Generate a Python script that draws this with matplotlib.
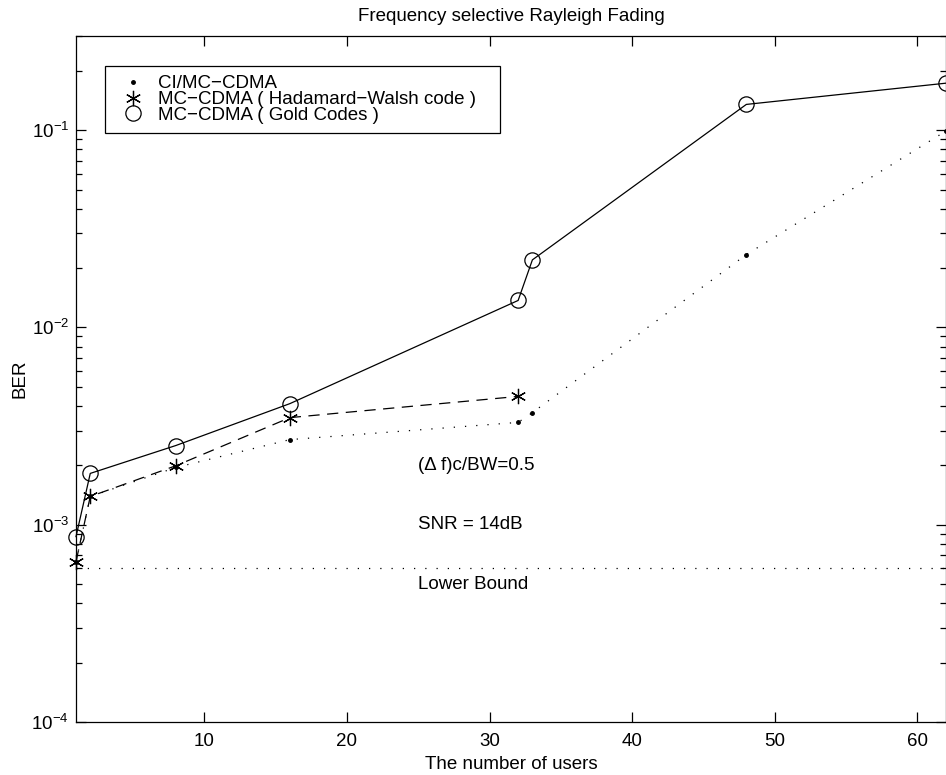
import matplotlib
matplotlib.use("Agg")
import matplotlib.pyplot as plt
from matplotlib.lines import Line2D
from matplotlib.ticker import LogLocator, NullFormatter

plt.rcParams['font.family'] = ['Liberation Sans', 'DejaVu Sans']
plt.rcParams['mathtext.fontset'] = 'custom'
plt.rcParams['mathtext.rm'] = 'Liberation Sans'
plt.rcParams['mathtext.it'] = 'Liberation Sans:italic'
plt.rcParams['mathtext.bf'] = 'Liberation Sans:bold'

# data
users_ci = [1, 2, 8, 16, 32, 33, 48, 62]
ber_ci = [6.5e-4, 1.39e-3, 1.95e-3, 2.7e-3, 3.3e-3, 3.7e-3, 2.34e-2, 0.099]

users_hw = [1, 2, 8, 16, 32]
ber_hw = [6.5e-4, 1.39e-3, 1.99e-3, 3.49e-3, 4.47e-3]

users_gold = [1, 2, 8, 16, 32, 33, 48, 62]
ber_gold = [8.7e-4, 1.82e-3, 2.52e-3, 4.11e-3, 1.37e-2, 2.2e-2, 0.135, 0.173]

lower_bound = 6e-4
labels = ['CI/MC\u2212CDMA', 'MC\u2212CDMA ( Hadamard\u2212Walsh code )', 'MC\u2212CDMA ( Gold Codes )']

fs = 13.5
fig = plt.figure(figsize=(9.46, 7.75), dpi=100)
ax = fig.add_axes([76/946, 1-722/775, 870/946, 686/775])

asterisk = (6, 2, 0)
lw = 0.9
ax.plot(users_ci, ber_ci, color='k', lw=lw, linestyle=(0, (1, 8)), marker='o', markersize=2.5, clip_on=False)
ax.plot(users_hw, ber_hw, color='k', lw=lw, linestyle=(0, (9, 6)), marker=asterisk, markersize=11,
        markeredgewidth=0.9, clip_on=False)
ax.plot(users_gold, ber_gold, color='k', lw=lw, linestyle='-', marker='o', markersize=11,
        markerfacecolor='none', markeredgewidth=0.9, clip_on=False)
ax.plot([1, 62], [lower_bound, lower_bound], color='k', lw=lw, linestyle=(0, (1, 8)))

ax.set_yscale('log')
ax.set_xlim(1, 62)
ax.set_ylim(1e-4, 0.3)
ax.set_xticks([10, 20, 30, 40, 50, 60])
ax.yaxis.set_major_locator(LogLocator(base=10, numticks=10))
ax.yaxis.set_minor_locator(LogLocator(base=10, subs=range(2, 10), numticks=20))
ax.yaxis.set_minor_formatter(NullFormatter())
ax.tick_params(which='both', direction='in', top=True, right=True, labelsize=fs, width=0.9)
ax.tick_params(which='major', length=7)
ax.tick_params(which='minor', length=4)
ax.tick_params(axis='y', which='major', pad=5)
ax.tick_params(axis='x', which='major', pad=8)
for s in ax.spines.values():
    s.set_linewidth(0.9)

ax.text(25, 2e-3, '(\u0394 f)c/BW=0.5', fontsize=fs, va='center', ha='left')
ax.text(25, 1e-3, 'SNR = 14dB', fontsize=fs, va='center', ha='left')
ax.text(25, 5e-4, 'Lower Bound', fontsize=fs, va='center', ha='left')

ax.set_title('Frequency selective Rayleigh Fading', fontsize=fs, pad=10.5)
ax.set_xlabel('The number of users', fontsize=fs, labelpad=4)
ax.set_ylabel('BER', fontsize=fs, labelpad=2)

handles = [
    Line2D([], [], color='k', linestyle='none', marker='o', markersize=2.5),
    Line2D([], [], color='k', linestyle='none', marker=asterisk, markersize=11, markeredgewidth=0.9),
    Line2D([], [], color='k', linestyle='none', marker='o', markersize=11, markerfacecolor='none', markeredgewidth=0.9),
]
leg = ax.legend(handles, labels, loc='upper left', mode='expand',
                bbox_to_anchor=(29/870, (722-137)/686, 395/870, 71/686), borderaxespad=0,
                fontsize=fs, frameon=True, fancybox=False, edgecolor='k', framealpha=1,
                labelspacing=-0.08, handlelength=2.0, handletextpad=0.35, borderpad=0.5)
leg.get_frame().set_linewidth(0.9)

fig.savefig('out.png', dpi=100)
